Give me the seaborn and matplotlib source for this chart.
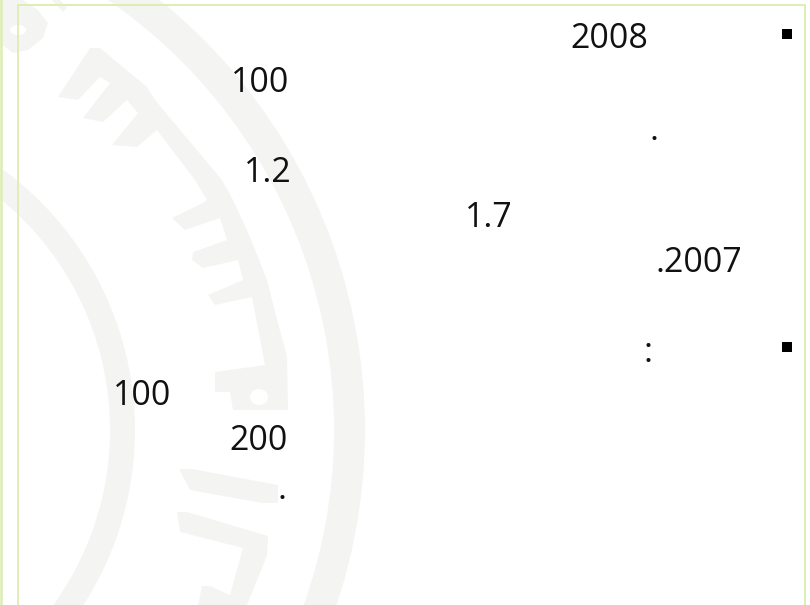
import matplotlib
matplotlib.use("Agg")
import matplotlib.pyplot as plt
from matplotlib.patches import Wedge, Polygon, Ellipse
import seaborn as sns
import pandas as pd

W, H = 810, 605
labels = ["2008", "100", ".", "1.2", "1.7", ".2007", ":", "100", "200", "."]
label_x = [570, 231, 649, 244, 465, 656, 643, 113, 229, 277]
label_y = [48, 92, 140, 182, 227, 272, 362, 405, 450, 499]
bullet_x = [786.7, 786.7]
bullet_y = [34, 347]

BORDER = "#deedb3"
MARK = "#f4f5f3"

sns.set_theme(style="white")
plt.rcParams["font.family"] = ["Open Sans", "DejaVu Sans"]

fig = plt.figure(figsize=(W / 100, H / 100), dpi=100, facecolor="white")
ax = fig.add_axes([0, 0, 1, 1])
ax.set_xlim(0, W)
ax.set_ylim(H, 0)
ax.axis("off")

# faint seal watermark
cx, cy = -188, 430
for r, w in [(553, 31), (323, 25)]:
    ax.add_patch(Wedge((cx, cy), r, -90, 90, width=w, color=MARK, lw=0, zorder=1))

shapes = [
    [(90,48),(100,48),(147,87),(155,100),(222,180),(233,200),(250,237),(267,280),(278,323),(287,357),
     (288,410),(233,410),(230,392),(215,392),(215,372),(265,365),(252,297),(215,305),(208,295),(243,280),
     (238,260),(203,268),(192,260),(193,252),(227,240),(220,218),(185,230),(172,218),(203,203),(207,200),
     (195,180),(157,130),(137,147),(112,145),(138,113),(127,100),(103,122),(83,118),(110,83),(100,77),
     (78,100),(58,97)],
    [(179,469),(192,469),(278,485),(278,503),(262,503),(190,490)],
    [(177,512),(187,512),(268,536),(267,555),(260,573),(247,605),(198,605),(202,586),(210,586),(230,595),
     (243,548),(180,532)],
    [(0,0),(23,0),(38,10),(48,23),(43,38),(28,50),(13,53),(0,43)],
    [(52,0),(60,0),(67,8),(63,12)],
]
for s in shapes:
    ax.add_patch(Polygon(s, closed=True, color=MARK, lw=0, zorder=1))
ax.add_patch(Ellipse((259, 397), 18, 16, color="white", lw=0, zorder=2))
ax.add_patch(Ellipse((18, 30), 16, 10, color="white", lw=0, zorder=2))

# slide frame
ax.plot([18, 18], [5, H], color=BORDER, lw=1.3, zorder=3)
ax.plot([1, 1], [0, H], color=BORDER, lw=1.9, zorder=3)
ax.plot([18, 804.5], [5, 5], color=BORDER, lw=1.4, zorder=3)
ax.plot([804.5, 804.5], [5, H], color=BORDER, lw=1.4, zorder=3)

# bullets
sns.scatterplot(data=pd.DataFrame({"x": bullet_x, "y": bullet_y}), x="x", y="y", marker="s",
                s=60, color="black", linewidth=0, ax=ax, zorder=4, legend=False)
ax.set_xlim(0, W)
ax.set_ylim(H, 0)
ax.axis("off")

for t, x, y in zip(labels, label_x, label_y):
    ax.text(x, y, t, fontsize=24.4, color="#111111", ha="left", va="baseline", zorder=5)

fig.savefig("out.png", dpi=100)
